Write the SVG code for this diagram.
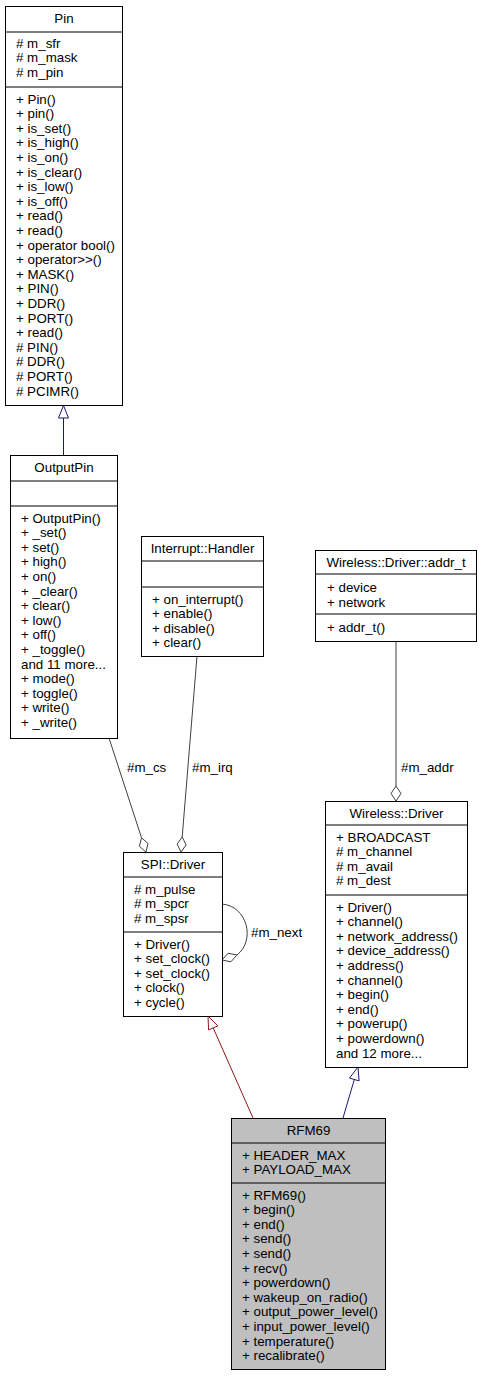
<svg xmlns="http://www.w3.org/2000/svg" width="481" height="1376" viewBox="0 0 481 1376">
<style>
text{font-family:"Liberation Sans",Arial,Helvetica,sans-serif;font-size:13.33px;fill:#000}
.t{text-anchor:middle}
.box{fill:#fff;stroke:#000;stroke-width:1}
.cur{fill:#bfbfbf;stroke:#000;stroke-width:1}
.sep{stroke:#000;stroke-width:1}
.agg{stroke:#404040;stroke-width:1;fill:none}
.aggh{stroke:#404040;stroke-width:1;fill:#fff}
.pub{stroke:#191970;stroke-width:1;fill:none}
.pubh{stroke:#191970;stroke-width:1;fill:#fff}
.pri{stroke:#8b1a1a;stroke-width:1;fill:none}
.prih{stroke:#8b1a1a;stroke-width:1;fill:#fff}
</style>
<rect width="481" height="1376" fill="#fff"/>
<g id="connectors">
<line class="pub" x1="63.5" y1="455" x2="63.5" y2="418"/>
<polygon class="pubh" points="63.5,405.5 58.5,418 68.5,418"/>
<line class="agg" x1="109" y1="738" x2="141.5" y2="837.7"/>
<polygon class="aggh" points="146,852 148,843.5 141.5,837.7 139.4,846.3"/>
<text x="127" y="772">#m_cs</text>
<line class="agg" x1="197" y1="656" x2="182.2" y2="837"/>
<polygon class="aggh" points="181,852 186.1,844.9 182.2,837 177.1,844.1"/>
<text x="192" y="772">#m_irq</text>
<line class="agg" x1="396" y1="642" x2="396" y2="786"/>
<polygon class="aggh" points="396,801 401,793.5 396,786 391,793.5"/>
<text x="401" y="772">#m_addr</text>
<path class="agg" d="M222,904 C247,906 256,940 237,955"/>
<polygon class="aggh" points="222,960 228.1,953.2 237,955 230.9,961.8"/>
<text x="251" y="937">#m_next</text>
<line class="pri" x1="253" y1="1118" x2="213.2" y2="1027.9"/>
<polygon class="prih" points="208,1016 217.8,1025.9 208.6,1029.9"/>
<line class="pub" x1="343" y1="1118" x2="354.3" y2="1079.5"/>
<polygon class="pubh" points="358,1067 359.1,1080.9 349.5,1078.1"/>
</g>
<g id="Pin">
<rect class="box" x="5.5" y="6.5" width="117" height="399"/>
<line class="sep" x1="5.5" y1="32" x2="122.5" y2="32"/>
<line class="sep" x1="5.5" y1="87" x2="122.5" y2="87"/>
<text class="t" x="64" y="23">Pin</text>
<text x="16" y="47.5"><tspan x="16">#&#160;m_sfr</tspan><tspan x="16" dy="14.6">#&#160;m_mask</tspan><tspan x="16" dy="14.6">#&#160;m_pin</tspan></text>
<text x="16" y="103.5"><tspan x="16">+ Pin()</tspan><tspan x="16" dy="14.6">+ pin()</tspan><tspan x="16" dy="14.6">+ is_set()</tspan><tspan x="16" dy="14.6">+ is_high()</tspan><tspan x="16" dy="14.6">+ is_on()</tspan><tspan x="16" dy="14.6">+ is_clear()</tspan><tspan x="16" dy="14.6">+ is_low()</tspan><tspan x="16" dy="14.6">+ is_off()</tspan><tspan x="16" dy="14.6">+ read()</tspan><tspan x="16" dy="14.6">+ read()</tspan><tspan x="16" dy="14.6">+ operator bool()</tspan><tspan x="16" dy="14.6">+ operator&gt;&gt;()</tspan><tspan x="16" dy="14.6">+ MASK()</tspan><tspan x="16" dy="14.6">+ PIN()</tspan><tspan x="16" dy="14.6">+ DDR()</tspan><tspan x="16" dy="14.6">+ PORT()</tspan><tspan x="16" dy="14.6">+ read()</tspan><tspan x="16" dy="14.6"># PIN()</tspan><tspan x="16" dy="14.6"># DDR()</tspan><tspan x="16" dy="14.6"># PORT()</tspan><tspan x="16" dy="14.6"># PCIMR()</tspan></text>
</g>
<g id="OutputPin">
<rect class="box" x="10.5" y="455.5" width="107" height="283"/>
<line class="sep" x1="10.5" y1="481" x2="117.5" y2="481"/>
<line class="sep" x1="10.5" y1="506" x2="117.5" y2="506"/>
<text class="t" x="64" y="472">OutputPin</text>
<text x="21" y="522.5"><tspan x="21">+ OutputPin()</tspan><tspan x="21" dy="14.6">+ _set()</tspan><tspan x="21" dy="14.6">+ set()</tspan><tspan x="21" dy="14.6">+ high()</tspan><tspan x="21" dy="14.6">+ on()</tspan><tspan x="21" dy="14.6">+ _clear()</tspan><tspan x="21" dy="14.6">+ clear()</tspan><tspan x="21" dy="14.6">+ low()</tspan><tspan x="21" dy="14.6">+ off()</tspan><tspan x="21" dy="14.6">+ _toggle()</tspan><tspan x="21" dy="14.6">and 11 more...</tspan><tspan x="21" dy="14.6">+ mode()</tspan><tspan x="21" dy="14.6">+ toggle()</tspan><tspan x="21" dy="14.6">+ write()</tspan><tspan x="21" dy="14.6">+ _write()</tspan></text>
</g>
<g id="Interrupt_Handler">
<rect class="box" x="141.5" y="536.5" width="122" height="120"/>
<line class="sep" x1="141.5" y1="561" x2="263.5" y2="561"/>
<line class="sep" x1="141.5" y1="587" x2="263.5" y2="587"/>
<text class="t" x="202.5" y="553">Interrupt::Handler</text>
<text x="152" y="603.5"><tspan x="152">+ on_interrupt()</tspan><tspan x="152" dy="14.6">+ enable()</tspan><tspan x="152" dy="14.6">+ disable()</tspan><tspan x="152" dy="14.6">+ clear()</tspan></text>
</g>
<g id="Wireless_Driver_addr_t">
<rect class="box" x="315.5" y="550.5" width="161" height="91"/>
<line class="sep" x1="315.5" y1="574" x2="476.5" y2="574"/>
<line class="sep" x1="315.5" y1="614" x2="476.5" y2="614"/>
<text class="t" x="396" y="567">Wireless::Driver::addr_t</text>
<text x="327" y="592"><tspan x="327">+ device</tspan><tspan x="327" dy="14.6">+ network</tspan></text>
<text x="327" y="632">+ addr_t()</text>
</g>
<g id="Wireless_Driver">
<rect class="box" x="325.5" y="801.5" width="142" height="266"/>
<line class="sep" x1="325.5" y1="825" x2="467.5" y2="825"/>
<line class="sep" x1="325.5" y1="895" x2="467.5" y2="895"/>
<text class="t" x="396.5" y="818">Wireless::Driver</text>
<text x="336" y="841.5"><tspan x="336">+ BROADCAST</tspan><tspan x="336" dy="14.6"># m_channel</tspan><tspan x="336" dy="14.6"># m_avail</tspan><tspan x="336" dy="14.6"># m_dest</tspan></text>
<text x="336" y="911.5"><tspan x="336">+ Driver()</tspan><tspan x="336" dy="14.6">+ channel()</tspan><tspan x="336" dy="14.6">+ network_address()</tspan><tspan x="336" dy="14.6">+ device_address()</tspan><tspan x="336" dy="14.6">+ address()</tspan><tspan x="336" dy="14.6">+ channel()</tspan><tspan x="336" dy="14.6">+ begin()</tspan><tspan x="336" dy="14.6">+ end()</tspan><tspan x="336" dy="14.6">+ powerup()</tspan><tspan x="336" dy="14.6">+ powerdown()</tspan><tspan x="336" dy="14.6">and 12 more...</tspan></text>
</g>
<g id="SPI_Driver">
<rect class="box" x="123.5" y="852.5" width="99" height="164"/>
<line class="sep" x1="123.5" y1="877" x2="222.5" y2="877"/>
<line class="sep" x1="123.5" y1="932" x2="222.5" y2="932"/>
<text class="t" x="173" y="869">SPI::Driver</text>
<text x="134" y="893.5"><tspan x="134"># m_pulse</tspan><tspan x="134" dy="14.6"># m_spcr</tspan><tspan x="134" dy="14.6"># m_spsr</tspan></text>
<text x="134" y="948.5"><tspan x="134">+ Driver()</tspan><tspan x="134" dy="14.6">+ set_clock()</tspan><tspan x="134" dy="14.6">+ set_clock()</tspan><tspan x="134" dy="14.6">+ clock()</tspan><tspan x="134" dy="14.6">+ cycle()</tspan></text>
</g>
<g id="RFM69">
<rect class="cur" x="231.5" y="1118.5" width="154" height="251"/>
<line class="sep" x1="231.5" y1="1143" x2="385.5" y2="1143"/>
<line class="sep" x1="231.5" y1="1183" x2="385.5" y2="1183"/>
<text class="t" x="308.5" y="1135">RFM69</text>
<text x="242" y="1159.5"><tspan x="242">+ HEADER_MAX</tspan><tspan x="242" dy="14.6">+ PAYLOAD_MAX</tspan></text>
<text x="242" y="1199.5"><tspan x="242">+ RFM69()</tspan><tspan x="242" dy="14.6">+ begin()</tspan><tspan x="242" dy="14.6">+ end()</tspan><tspan x="242" dy="14.6">+ send()</tspan><tspan x="242" dy="14.6">+ send()</tspan><tspan x="242" dy="14.6">+ recv()</tspan><tspan x="242" dy="14.6">+ powerdown()</tspan><tspan x="242" dy="14.6">+ wakeup_on_radio()</tspan><tspan x="242" dy="14.6">+ output_power_level()</tspan><tspan x="242" dy="14.6">+ input_power_level()</tspan><tspan x="242" dy="14.6">+ temperature()</tspan><tspan x="242" dy="14.6">+ recalibrate()</tspan></text>
</g>
</svg>
